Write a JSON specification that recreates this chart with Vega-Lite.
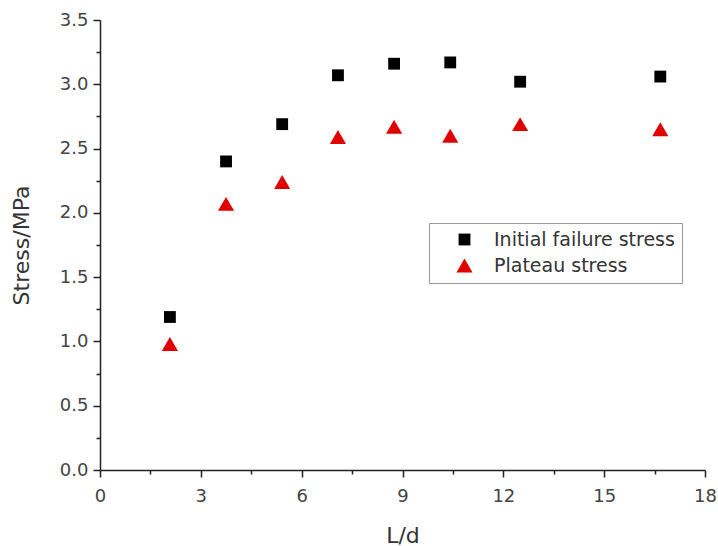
{
  "$schema": "https://vega.github.io/schema/vega-lite/v6.json",
  "autosize": {"type": "none"},
  "padding": {"left": 100, "top": 20, "right": 12, "bottom": 76},
  "width": 605,
  "height": 450,
  "background": "white",
  "config": {
    "view": {"stroke": null},
    "font": "DejaVu Sans"
  },
  "data": {
    "values": [
      {"Ld": 2.08, "stress": 1.19, "series": "Initial failure stress"},
      {"Ld": 3.75, "stress": 2.40, "series": "Initial failure stress"},
      {"Ld": 5.42, "stress": 2.69, "series": "Initial failure stress"},
      {"Ld": 7.08, "stress": 3.07, "series": "Initial failure stress"},
      {"Ld": 8.75, "stress": 3.16, "series": "Initial failure stress"},
      {"Ld": 10.42, "stress": 3.17, "series": "Initial failure stress"},
      {"Ld": 12.5, "stress": 3.02, "series": "Initial failure stress"},
      {"Ld": 16.67, "stress": 3.06, "series": "Initial failure stress"},
      {"Ld": 2.08, "stress": 0.98, "series": "Plateau stress"},
      {"Ld": 3.75, "stress": 2.07, "series": "Plateau stress"},
      {"Ld": 5.42, "stress": 2.24, "series": "Plateau stress"},
      {"Ld": 7.08, "stress": 2.59, "series": "Plateau stress"},
      {"Ld": 8.75, "stress": 2.67, "series": "Plateau stress"},
      {"Ld": 10.42, "stress": 2.60, "series": "Plateau stress"},
      {"Ld": 12.5, "stress": 2.69, "series": "Plateau stress"},
      {"Ld": 16.67, "stress": 2.65, "series": "Plateau stress"}
    ]
  },
  "mark": {"type": "point", "filled": true, "opacity": 1},
  "encoding": {
    "x": {
      "field": "Ld", "type": "quantitative",
      "scale": {"domain": [0, 18], "nice": false, "zero": false},
      "axis": {
        "title": "L/d",
        "titleFontSize": 22, "titleFontWeight": "normal", "titleColor": "#333", "titlePadding": 20,
        "values": [0, 1.5, 3, 4.5, 6, 7.5, 9, 10.5, 12, 13.5, 15, 16.5, 18],
        "labelExpr": "datum.value % 3 == 0 ? datum.label : ''",
        "labelFontSize": 18, "labelColor": "#444", "labelPadding": 10, "labelFlush": false,
        "grid": false,
        "domainColor": "#222", "domainWidth": 1.5,
        "tickColor": "#222", "tickWidth": 1.5,
        "tickSize": {"condition": {"test": "datum.value % 3 == 0", "value": 7}, "value": 4}
      }
    },
    "y": {
      "field": "stress", "type": "quantitative",
      "scale": {"domain": [0, 3.5], "nice": false, "zero": false},
      "axis": {
        "title": "Stress/MPa",
        "titleFontSize": 22, "titleFontWeight": "normal", "titleColor": "#333", "titlePadding": 26,
        "values": [0, 0.25, 0.5, 0.75, 1, 1.25, 1.5, 1.75, 2, 2.25, 2.5, 2.75, 3, 3.25, 3.5],
        "labelExpr": "abs(datum.value*2 - round(datum.value*2)) < 0.01 ? format(datum.value, '.1f') : ''",
        "labelFontSize": 18, "labelColor": "#444", "labelPadding": 5, "labelFlush": false,
        "grid": false,
        "domainColor": "#222", "domainWidth": 1.5,
        "tickColor": "#222", "tickWidth": 1.5,
        "tickSize": {"condition": {"test": "abs(datum.value*2 - round(datum.value*2)) < 0.01", "value": 7}, "value": 4}
      }
    },
    "color": {
      "field": "series", "type": "nominal",
      "scale": {"domain": ["Initial failure stress", "Plateau stress"], "range": ["#000000", "#e00000"]},
      "legend": {
        "title": null, "orient": "none", "legendX": 329, "legendY": 203,
        "labelFontSize": 19, "labelColor": "#333", "labelFont": "DejaVu Sans",
        "strokeColor": "#999", "padding": 7, "rowPadding": 6, "symbolSize": 140,
        "symbolOffset": 19, "labelOffset": 20, "labelLimit": 300
      }
    },
    "shape": {
      "field": "series", "type": "nominal",
      "scale": {"domain": ["Initial failure stress", "Plateau stress"], "range": ["square", "triangle-up"]}
    },
    "size": {
      "field": "series", "type": "nominal",
      "scale": {"domain": ["Initial failure stress", "Plateau stress"], "range": [140, 260]},
      "legend": null
    }
  }
}
